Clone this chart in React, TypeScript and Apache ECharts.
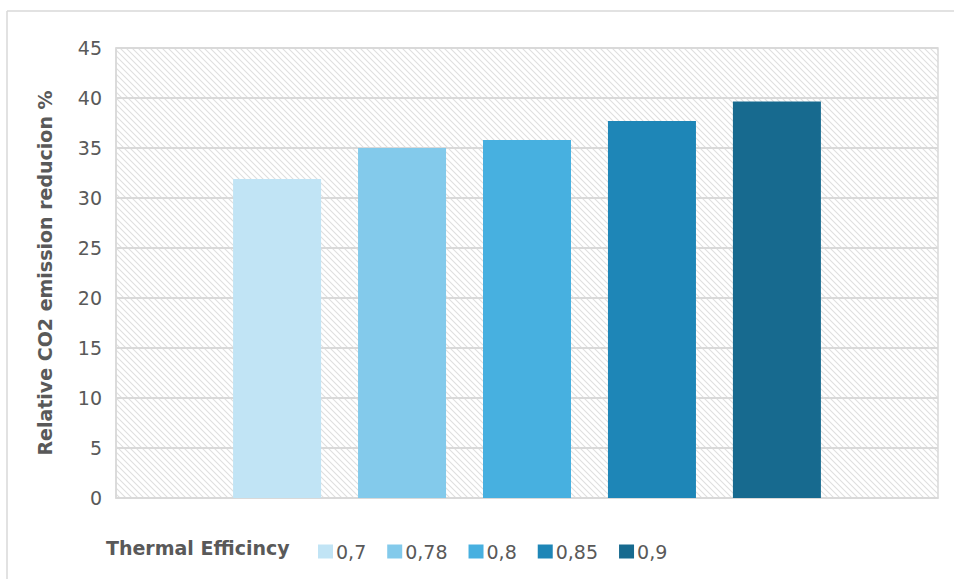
import React, { useEffect, useRef } from "react";
import * as echarts from "echarts";

// Thermal efficiency levels (legend entries) and the CO2 reduction each yields
const efficiencies = ["0,7", "0,78", "0,8", "0,85", "0,9"];
const reductions = [31.9, 35.0, 35.8, 37.7, 39.65];
const barColors = ["#C1E4F5", "#83CAEB", "#47B0E0", "#1E86B7", "#176A8F"];
const yTicks = { min: 0, max: 45, interval: 5 };

const FONT = "DejaVu Sans";
const TEXT = "#595959";
const LINE = "#D9D9D9";

// Small repeating tile with a single "\" stroke for the plot-area hatching
function hatchTile(): string {
  const size = 6;
  const c = document.createElement("canvas");
  c.width = size;
  c.height = size;
  const ctx = c.getContext("2d")!;
  ctx.fillStyle = "#FFFFFF";
  ctx.fillRect(0, 0, size, size);
  ctx.strokeStyle = "#DFDFDF";
  ctx.lineWidth = 1.1;
  ctx.beginPath();
  ctx.moveTo(-1, -1);
  ctx.lineTo(size + 1, size + 1);
  ctx.moveTo(-1, size - 1);
  ctx.lineTo(1, size + 1);
  ctx.moveTo(size - 1, -1);
  ctx.lineTo(size + 1, 1);
  ctx.stroke();
  return c.toDataURL();
}

export default function App() {
  const ref = useRef<HTMLDivElement>(null);

  useEffect(() => {
    if (!ref.current) return;
    const chart = echarts.init(ref.current, undefined, { renderer: "svg" });

    const series = efficiencies.map((name, i) => ({
      name,
      type: "bar" as const,
      data: [reductions[i]],
      barWidth: 88,
      barGap: "42%",
      itemStyle: { color: barColors[i] },
      emphasis: { disabled: true },
    }));

    chart.setOption({
      animation: false,
      backgroundColor: "#FFFFFF",
      grid: {
        left: 116,
        right: 16,
        top: 48,
        bottom: 81,
        show: true,
        borderColor: LINE,
        borderWidth: 1.5,
        backgroundColor: {
          image: hatchTile(),
          repeat: "repeat",
          imageWidth: 6,
          imageHeight: 6,
        } as any,
      },
      xAxis: {
        type: "category",
        data: [""],
        axisLine: { show: true, lineStyle: { color: LINE, width: 1.5 } },
        axisTick: { show: false },
        axisLabel: { show: false },
      },
      yAxis: {
        type: "value",
        min: yTicks.min,
        max: yTicks.max,
        interval: yTicks.interval,
        name: "Relative CO2 emission reducion %",
        nameLocation: "middle",
        nameGap: 62,
        nameTextStyle: {
          fontFamily: FONT,
          fontSize: 19,
          fontWeight: "bold",
          color: TEXT,
        },
        axisLine: { show: true, lineStyle: { color: LINE, width: 1.5 } },
        axisTick: { show: false },
        axisLabel: {
          fontFamily: FONT,
          fontSize: 19,
          color: TEXT,
          margin: 14,
        },
        splitLine: { lineStyle: { color: LINE, width: 2 } },
      },
      legend: {
        left: 313,
        top: 537,
        itemWidth: 15,
        itemHeight: 14,
        itemGap: 21,
        icon: "rect",
        textStyle: { fontFamily: FONT, fontSize: 19, color: TEXT, padding: [0, 0, 0, -2] },
        data: efficiencies,
      },
      graphic: [
        {
          type: "text",
          left: 106,
          top: 538,
          style: {
            text: "Thermal Efficincy",
            font: `bold 19px "${FONT}"`,
            fill: TEXT,
          },
        },
        {
          type: "line",
          shape: { x1: 7, y1: 11, x2: 954, y2: 11 },
          style: { stroke: LINE, lineWidth: 1.5 },
        },
        {
          type: "line",
          shape: { x1: 7, y1: 11, x2: 7, y2: 579 },
          style: { stroke: LINE, lineWidth: 1.5 },
        },
      ],
      series,
    });

    return () => chart.dispose();
  }, []);

  return (
    <div
      ref={ref}
      style={{ width: 954, height: 579, position: "fixed", left: 0, top: 0 }}
    />
  );
}
